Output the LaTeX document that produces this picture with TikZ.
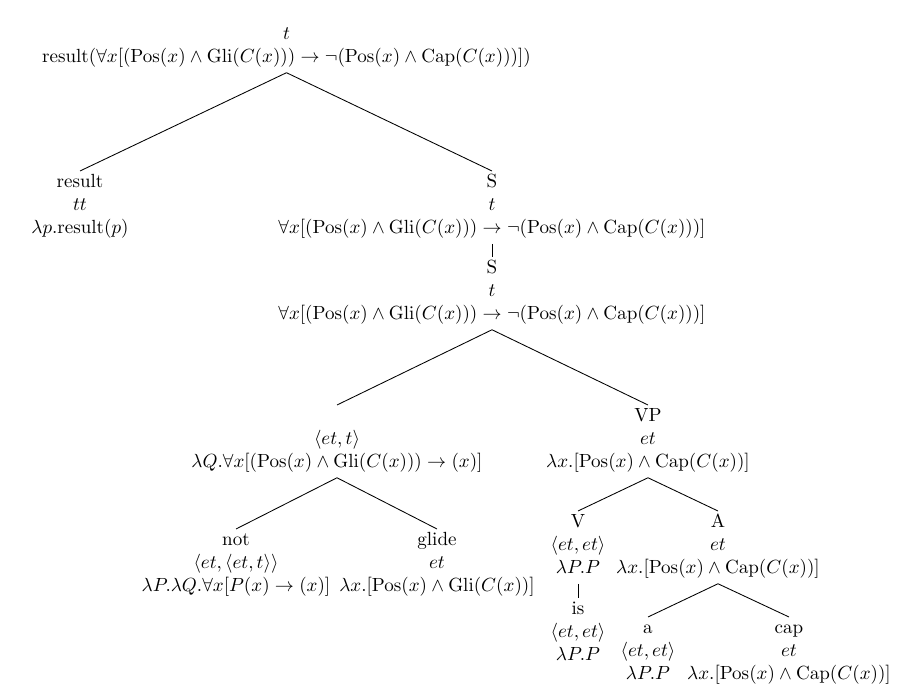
\documentclass[tikz,border=0pt]{standalone}
\usepackage{amsmath}

% predicate names used in the formulas
\newcommand{\fPos}{\mathrm{Pos}}
\newcommand{\fGli}{\mathrm{Gli}}
\newcommand{\fCap}{\mathrm{Cap}}
\newcommand{\fRes}{\mathrm{result}}
% struts giving every label the same top and bottom clearance
\newcommand{\topstrut}{\rule{0pt}{8.4pt}}
\newcommand{\botstrut}{\rule[-5.2pt]{0pt}{5.2pt}}

\begin{document}
\begin{tikzpicture}[x=0.525pt,y=-0.525pt,
  tn/.style={anchor=north,align=center,inner sep=0pt,
             font=\fontsize{10}{12.1}\selectfont},
  br/.style={line width=0.45pt}]
\useasboundingbox (0,0) rectangle (909,700);

% tree labels (top edge of each label)
\node[tn] (root) at (286.5,23) {\topstrut$t$\\
  $\fRes(\forall x[(\fPos(x)\wedge\fGli(C(x)))\rightarrow\neg(\fPos(x)\wedge\fCap(C(x)))])$\botstrut};

\node[tn] (res) at (80,171) {\topstrut result\\ $tt$\\ $\lambda p.\fRes(p)$\botstrut};

\node[tn] (s1) at (492,171) {\topstrut S\\ $t$\\
  $\forall x[(\fPos(x)\wedge\fGli(C(x)))\rightarrow\neg(\fPos(x)\wedge\fCap(C(x)))]$\botstrut};

\node[tn] (s2) at (492,257) {\topstrut S\\ $t$\\
  $\forall x[(\fPos(x)\wedge\fGli(C(x)))\rightarrow\neg(\fPos(x)\wedge\fCap(C(x)))]$\botstrut};

\node[tn] (q) at (337,405) {\topstrut\\ $\langle et,t\rangle$\\
  $\lambda Q.\forall x[(\fPos(x)\wedge\fGli(C(x)))\rightarrow(x)]$\botstrut};

\node[tn] (vp) at (648,405) {\topstrut VP\\ $et$\\
  $\lambda x.[\fPos(x)\wedge\fCap(C(x))]$\botstrut};

\node[tn] (not) at (236,529) {\topstrut not\\ $\langle et,\langle et,t\rangle\rangle$\\
  $\lambda P.\lambda Q.\forall x[P(x)\rightarrow(x)]$\botstrut};

\node[tn] (glide) at (437,529) {\topstrut glide\\ $et$\\
  $\lambda x.[\fPos(x)\wedge\fGli(C(x))]$\botstrut};

\node[tn] (v) at (578,511) {\topstrut V\\ $\langle et,et\rangle$\\ $\lambda P.P$\botstrut};

\node[tn] (adj) at (718,511) {\topstrut A\\ $et$\\
  $\lambda x.[\fPos(x)\wedge\fCap(C(x))]$\botstrut};

\node[tn] (is) at (578,598) {\topstrut is\\ $\langle et,et\rangle$\\ $\lambda P.P$\botstrut};

\node[tn] (art) at (648,617) {\topstrut a\\ $\langle et,et\rangle$\\ $\lambda P.P$\botstrut};

\node[tn] (cap) at (789,617) {\topstrut cap\\ $et$\\
  $\lambda x.[\fPos(x)\wedge\fCap(C(x))]$\botstrut};

% branches
\draw[br] (root.south) -- (res.north);
\draw[br] (root.south) -- (s1.north);
\draw[br] (s1.south) -- (s2.north);
\draw[br] (s2.south) -- (q.north);
\draw[br] (s2.south) -- (vp.north);
\draw[br] (q.south) -- (not.north);
\draw[br] (q.south) -- (glide.north);
\draw[br] (vp.south) -- (v.north);
\draw[br] (vp.south) -- (adj.north);
\draw[br] (v.south) -- (is.north);
\draw[br] (adj.south) -- (art.north);
\draw[br] (adj.south) -- (cap.north);
\end{tikzpicture}
\end{document}
